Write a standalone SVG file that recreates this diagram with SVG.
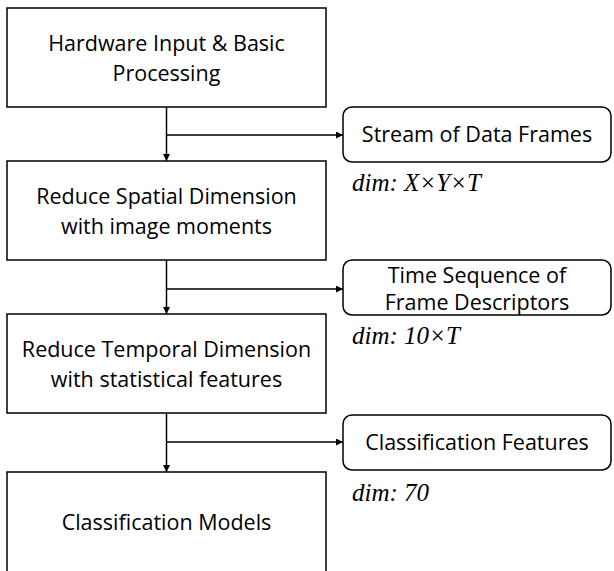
<svg xmlns="http://www.w3.org/2000/svg" width="614" height="571" viewBox="0 0 614 571">
  <style>
    .stage { fill: #ffffff; stroke: #000000; stroke-width: 1.5; }
    .data { fill: #ffffff; stroke: #000000; stroke-width: 1.5; }
    .lbl { font-family: "Open Sans", "Liberation Sans", sans-serif; font-size: 21.5px; fill: #000000; text-anchor: middle; }
    .dim { font-family: "Liberation Serif", serif; font-style: italic; font-size: 25px; fill: #000000; }
    .wire { fill: none; stroke: #000000; stroke-width: 1.5; }
  </style>
  <defs>
    <marker id="head" viewBox="0 0 10 10" refX="10" refY="5" markerWidth="7" markerHeight="7" markerUnits="userSpaceOnUse" orient="auto">
      <path d="M0,0 L10,5 L0,10 Z" fill="#000000"/>
    </marker>
  </defs>

  <!-- processing stages -->
  <g id="stage-hardware">
    <rect class="stage" x="7" y="8" width="319" height="99"/>
    <text class="lbl" x="166.5" y="51">Hardware Input &amp; Basic</text>
    <text class="lbl" x="166.5" y="81">Processing</text>
  </g>
  <g id="stage-spatial">
    <rect class="stage" x="7" y="161" width="319" height="99"/>
    <text class="lbl" x="166.5" y="204">Reduce Spatial Dimension</text>
    <text class="lbl" x="166.5" y="234">with image moments</text>
  </g>
  <g id="stage-temporal">
    <rect class="stage" x="7" y="314" width="319" height="99"/>
    <text class="lbl" x="166.5" y="357">Reduce Temporal Dimension</text>
    <text class="lbl" x="166.5" y="387">with statistical features</text>
  </g>
  <g id="stage-classifier">
    <rect class="stage" x="7" y="472" width="319" height="110"/>
    <text class="lbl" x="166.5" y="530">Classification Models</text>
  </g>

  <!-- intermediate data -->
  <g id="data-frames">
    <rect class="data" x="343" y="107" width="268" height="55" rx="9"/>
    <text class="lbl" x="477" y="142">Stream of Data Frames</text>
    <text class="dim" x="352" y="191">dim: X×Y×T</text>
  </g>
  <g id="data-descriptors">
    <rect class="data" x="343" y="260" width="268" height="55" rx="9"/>
    <text class="lbl" x="477" y="283">Time Sequence of</text>
    <text class="lbl" x="477" y="310">Frame Descriptors</text>
    <text class="dim" x="352" y="344">dim: 10×T</text>
  </g>
  <g id="data-features">
    <rect class="data" x="343" y="415" width="268" height="55" rx="9"/>
    <text class="lbl" x="477" y="450">Classification Features</text>
    <text class="dim" x="352" y="501">dim: 70</text>
  </g>

  <!-- connectors -->
  <g id="connectors">
    <path class="wire" d="M166.5,107 V161" marker-end="url(#head)"/>
    <path class="wire" d="M166.5,135 H343" marker-end="url(#head)"/>
    <path class="wire" d="M166.5,260 V314" marker-end="url(#head)"/>
    <path class="wire" d="M166.5,289 H343" marker-end="url(#head)"/>
    <path class="wire" d="M166.5,413 V472" marker-end="url(#head)"/>
    <path class="wire" d="M166.5,442 H343" marker-end="url(#head)"/>
  </g>
</svg>
